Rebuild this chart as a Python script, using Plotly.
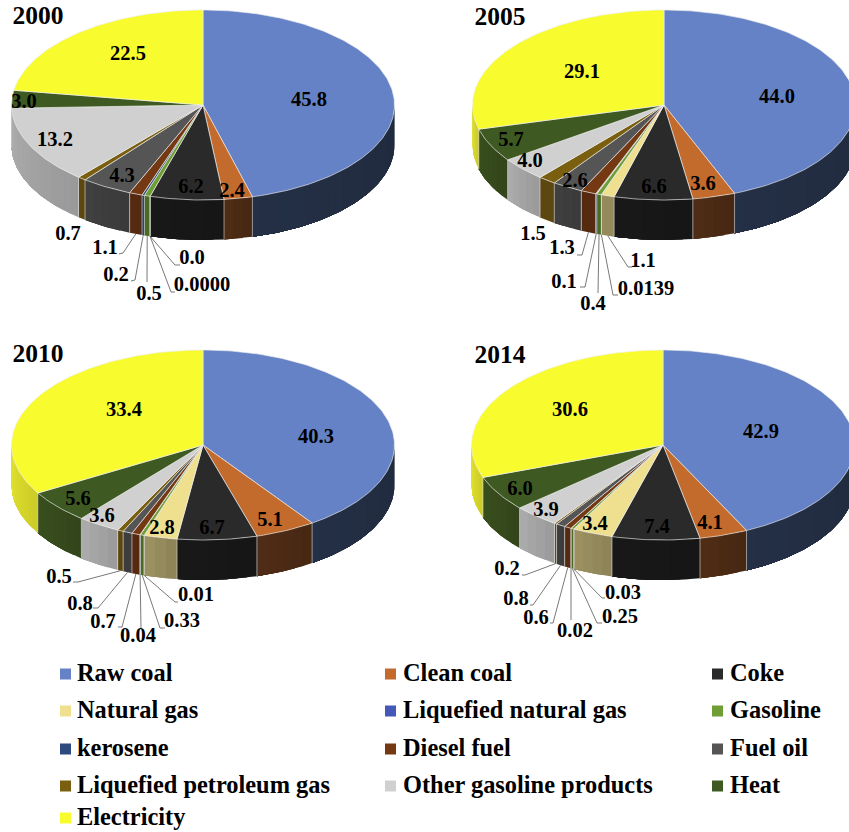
import numpy as np
import plotly.graph_objects as go

categories = ["Raw coal", "Clean coal", "Coke", "Natural gas", "Liquefied natural gas", "Gasoline",
              "kerosene", "Diesel fuel", "Fuel oil", "Liquefied petroleum gas",
              "Other gasoline products", "Heat", "Electricity"]

values_2000 = [45.8, 2.4, 6.2, 0.0, 0.0000, 0.5, 0.2, 1.1, 4.3, 0.7, 13.2, 3.0, 22.5]
values_2005 = [44.0, 3.6, 6.6, 1.1, 0.0139, 0.4, 0.1, 1.3, 2.6, 1.5, 4.0, 5.7, 29.1]
values_2010 = [40.3, 5.1, 6.7, 2.8, 0.01, 0.33, 0.04, 0.7, 0.8, 0.5, 3.6, 5.6, 33.4]
values_2014 = [42.9, 4.1, 7.4, 3.4, 0.03, 0.25, 0.02, 0.6, 0.8, 0.2, 3.9, 6.0, 30.6]

labels_2000 = ["45.8", "2.4", "6.2", "0.0", "0.0000", "0.5", "0.2", "1.1", "4.3", "0.7", "13.2", "3.0", "22.5"]
labels_2005 = ["44.0", "3.6", "6.6", "1.1", "0.0139", "0.4", "0.1", "1.3", "2.6", "1.5", "4.0", "5.7", "29.1"]
labels_2010 = ["40.3", "5.1", "6.7", "2.8", "0.01", "0.33", "0.04", "0.7", "0.8", "0.5", "3.6", "5.6", "33.4"]
labels_2014 = ["42.9", "4.1", "7.4", "3.4", "0.03", "0.25", "0.02", "0.6", "0.8", "0.2", "3.9", "6.0", "30.6"]

top_colors = ["#6482c5", "#c26b2d", "#2b2a2a", "#eee08f", "#4358b8", "#6f9e35", "#2c4a7e",
              "#743912", "#555555", "#7a5f10", "#d0d0d0", "#3e5a22", "#f8fc2e"]
side_colors = ["#222d42", "#4b2a14", "#171717", "#958a5c", "#2b3a7a", "#4a6b22", "#1d3154",
               "#552a11", "#3d3d3d", "#5c4710", "#a3a3a3", "#364a1c", "#d8d82c"]

# ---- layout (pixels) ----
W, H = 849, 832
RX, RY, DEPTH = 191.5, 95, 40
SERIF = "Liberation Serif"
TEXT_DY = 1

panels = [
    dict(title="2000", values=values_2000, labels=labels_2000, c=(203, 105), title_xy=(38, 17),
         pos=[(309, 100), (232, 191), (191, 187), (192, 258), (202, 285), (149, 294), (116, 275),
              (105, 248), (122, 176), (68, 234), (55, 140), (24, 102), (128, 54)],
         lead={3: [(175, 265), (180, 265)], 4: [(171, 292), (175, 292)], 5: [(147, 282)],
               6: [(135, 280), (131, 281)], 7: [(123, 253), (119, 254)]}),
    dict(title="2005", values=values_2005, labels=labels_2005, c=(664, 105), title_xy=(500, 18),
         pos=[(777, 97), (703, 184), (654, 187), (643, 261), (646, 289), (593, 304), (564, 282),
              (562, 248), (575, 181), (533, 234), (530, 161), (511, 140), (582, 72)],
         lead={3: [(628, 267), (632, 267)], 4: [(613, 295), (618, 295)], 5: [(598, 293)],
               6: [(585, 287), (580, 287)], 7: [(582, 255), (577, 255)]}),
    dict(title="2010", values=values_2010, labels=labels_2010, c=(203, 445), title_xy=(38, 355),
         pos=[(316, 437), (270, 520), (212, 528), (162, 528), (196, 595), (182, 621), (138, 636),
              (103, 622), (80, 604), (59, 577), (102, 516), (78, 499), (124, 410)],
         lead={4: [(175, 602), (178, 602)], 5: [(160, 628), (165, 628)], 6: [(141, 628)],
               7: [(122, 627), (118, 627)], 8: [(98, 608), (93, 608)], 9: [(78, 582), (73, 582)]}),
    dict(title="2014", values=values_2014, labels=labels_2014, c=(663, 445), title_xy=(500, 356),
         pos=[(761, 432), (710, 523), (657, 527), (595, 524), (623, 593), (620, 617), (575, 631),
              (536, 618), (516, 599), (507, 569), (546, 510), (520, 489), (570, 410)],
         lead={4: [(602, 598), (605, 598)], 5: [(597, 623), (602, 623)], 6: [(571, 620)],
               7: [(553, 623), (550, 623)], 8: [(533, 605), (530, 605)], 9: [(525, 575), (522, 575)]}),
]

legend_cols = [(60, 77), (385, 403), (712, 730)]
legend_rows = [674, 711, 749, 786, 818]


def shade(hex_color, f):
    r, g, b = (int(hex_color[i:i + 2], 16) for i in (1, 3, 5))
    return "rgb(%d,%d,%d)" % tuple(min(255, round(v * f)) for v in (r, g, b))


def ell(cx, cy, t):
    return cx + RX * np.sin(t), cy - RY * np.cos(t)


fig = go.Figure()

for p in panels:
    cx, cy = p["c"]
    vals = np.array(p["values"], dtype=float)
    edges = np.concatenate([[0], np.cumsum(vals) / vals.sum()]) * 2 * np.pi

    # visible outer wall: front half of the disc; each band runs to the slice end so no seams show
    for i, (a, b) in enumerate(zip(edges[:-1], edges[1:])):
        lo, hi = max(a, np.pi / 2), min(b, 3 * np.pi / 2)
        if hi <= lo:
            continue
        n_strips = max(1, int((hi - lo) / 0.05))
        cuts = np.linspace(lo, hi, n_strips + 1)
        for k in range(n_strips):
            t = np.linspace(cuts[k], hi, max(4, 4 * (n_strips - k)))
            x, y = ell(cx, cy, t)
            xs = np.concatenate([x, x[::-1], x[:1]])
            ys = np.concatenate([y, y[::-1] + DEPTH, y[:1]])
            f = 0.94 + 0.12 * (k + 0.5) / n_strips
            fig.add_trace(go.Scatter(x=xs, y=ys, mode="lines", fill="toself",
                                     fillcolor=shade(side_colors[i], f),
                                     line=dict(width=0), hoverinfo="skip"))
    # wall dividers
    for e in edges[1:-1]:
        if np.pi / 2 < e < 3 * np.pi / 2:
            x, y = ell(cx, cy, e)
            fig.add_trace(go.Scatter(x=[x, x], y=[y, y + DEPTH], mode="lines",
                                     line=dict(color="rgba(225,225,225,0.75)", width=0.8),
                                     hoverinfo="skip"))

    # top face
    for i, (a, b) in enumerate(zip(edges[:-1], edges[1:])):
        if b <= a:
            continue
        t = np.linspace(a, b, max(3, int((b - a) * 60)))
        x, y = ell(cx, cy, t)
        fig.add_trace(go.Scatter(x=np.concatenate([[cx], x, [cx]]), y=np.concatenate([[cy], y, [cy]]),
                                 mode="lines", fill="toself", fillcolor=top_colors[i],
                                 line=dict(color="rgba(238,238,238,0.8)", width=0.8), hoverinfo="skip"))

    # leader lines
    for i, pts in p["lead"].items():
        mid = (edges[i] + edges[i + 1]) / 2
        x, y = ell(cx, cy, mid)
        fig.add_trace(go.Scatter(x=[x] + [q[0] for q in pts], y=[y + DEPTH] + [q[1] for q in pts],
                                 mode="lines", line=dict(color="#555555", width=0.8), hoverinfo="skip"))

    # value labels
    fig.add_trace(go.Scatter(x=[q[0] for q in p["pos"]], y=[q[1] + TEXT_DY for q in p["pos"]], text=p["labels"],
                             mode="text", textposition="middle center", hoverinfo="skip",
                             textfont=dict(family=SERIF, size=20.5, color="#000000", weight=700)))
    # panel year
    fig.add_trace(go.Scatter(x=[p["title_xy"][0]], y=[p["title_xy"][1] + TEXT_DY], text=[p["title"]],
                             mode="text", textposition="middle center", hoverinfo="skip",
                             textfont=dict(family=SERIF, size=25.5, color="#000000", weight=700)))

# legend block
for i, name in enumerate(categories):
    col = legend_cols[i % 3]
    row = legend_rows[i // 3]
    fig.add_trace(go.Scatter(x=[col[0] + 5.5], y=[row], mode="markers", hoverinfo="skip",
                             marker=dict(symbol="square", size=11, color=top_colors[i], line=dict(width=0))))
    fig.add_trace(go.Scatter(x=[col[1]], y=[row + TEXT_DY], text=[name], mode="text", textposition="middle right",
                             hoverinfo="skip",
                             textfont=dict(family=SERIF, size=24.4, color="#000000", weight=700)))

fig.update_layout(
    width=W, height=H, margin=dict(l=0, r=0, t=0, b=0), showlegend=False,
    paper_bgcolor="white", plot_bgcolor="white",
    xaxis=dict(range=[0, W], visible=False, fixedrange=True),
    yaxis=dict(range=[H, 0], visible=False, fixedrange=True),
)

fig.write_html("out.html", config=dict(displayModeBar=False),
               post_script="document.body.style.margin='0';document.body.style.overflow='hidden';")
